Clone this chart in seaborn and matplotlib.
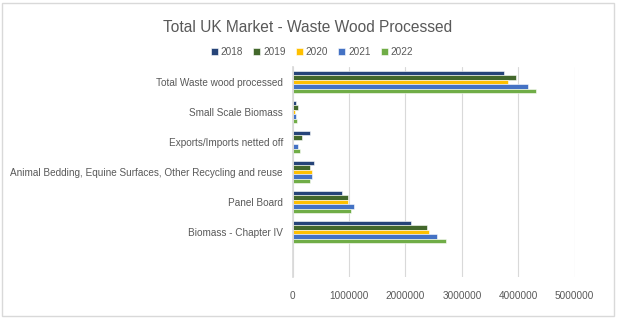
import pandas as pd
import seaborn as sns
import matplotlib.pyplot as plt
from matplotlib.patches import Rectangle
from matplotlib.ticker import FuncFormatter

categories = ['Total Waste wood processed', 'Small Scale Biomass', 'Exports/Imports netted off',
              'Animal Bedding, Equine Surfaces, Other Recycling and reuse', 'Panel Board',
              'Biomass - Chapter IV']
years = ['2018', '2019', '2020', '2021', '2022']
v2018 = [3750000, 60000, 307000, 384000, 868000, 2100000]
v2019 = [3960000, 88000, 160000, 307000, 980000, 2380000]
v2020 = [3820000, 40000, 0, 342000, 975000, 2420000]
v2021 = [4170000, 65000, 100000, 342000, 1080000, 2550000]
v2022 = [4310000, 80000, 124000, 313000, 1034000, 2720000]
colors = ['#264478', '#43682B', '#FFC000', '#4472C4', '#70AD47']

rows = []
for yr, vals in zip(years, [v2018, v2019, v2020, v2021, v2022]):
    for cat, v in zip(categories, vals):
        rows.append({'category': cat, 'year': yr, 'value': v})
df = pd.DataFrame(rows)

sns.set_theme(style='white')
plt.rcParams['font.family'] = ['Liberation Sans', 'DejaVu Sans']

fig = plt.figure(figsize=(6.2, 3.18), dpi=100)
ax = fig.add_axes([0.472, 1 - 277 / 318, 0.455, 210 / 318])
sns.barplot(data=df, y='category', x='value', hue='year', order=categories, hue_order=years,
            palette=colors, width=0.74, orient='h', ax=ax, edgecolor='white', linewidth=0.4,
            saturation=1, legend=True)

ax.set_xlim(0, 5000000)
ax.set_ylim(6.5, -0.5)
ax.set_xticks(range(0, 5000001, 1000000))
ax.xaxis.set_major_formatter(FuncFormatter(lambda v, p: f'{int(v)}'))
ax.grid(axis='x', color='#d9d9d9', linewidth=0.8)
ax.set_axisbelow(True)
for s in ['top', 'right', 'bottom']:
    ax.spines[s].set_visible(False)
ax.spines['left'].set_color('#d9d9d9')
ax.tick_params(axis='both', length=0, labelsize=7.2, labelcolor='#595959')
ax.tick_params(axis='y', pad=7)
ax.tick_params(axis='x', pad=10)
ax.set_xlabel('')
ax.set_ylabel('')

ax.legend(loc='center', bbox_to_anchor=(312 / 620, 1 - 52 / 318), bbox_transform=fig.transFigure,
          ncol=5, frameon=False, fontsize=7.2, handlelength=0.7, handleheight=0.7,
          handletextpad=0.3, columnspacing=1.0, labelcolor='#595959')

fig.text(308 / 620, 1 - 28 / 318, 'Total UK Market - Waste Wood Processed', ha='center', va='center',
         fontsize=11.2, color='#595959')
fig.patches.append(Rectangle((0.004, 0.006), 0.986, 0.985, transform=fig.transFigure,
                             fill=False, edgecolor='#d9d9d9', linewidth=1))

fig.savefig('out.png', dpi=100)
